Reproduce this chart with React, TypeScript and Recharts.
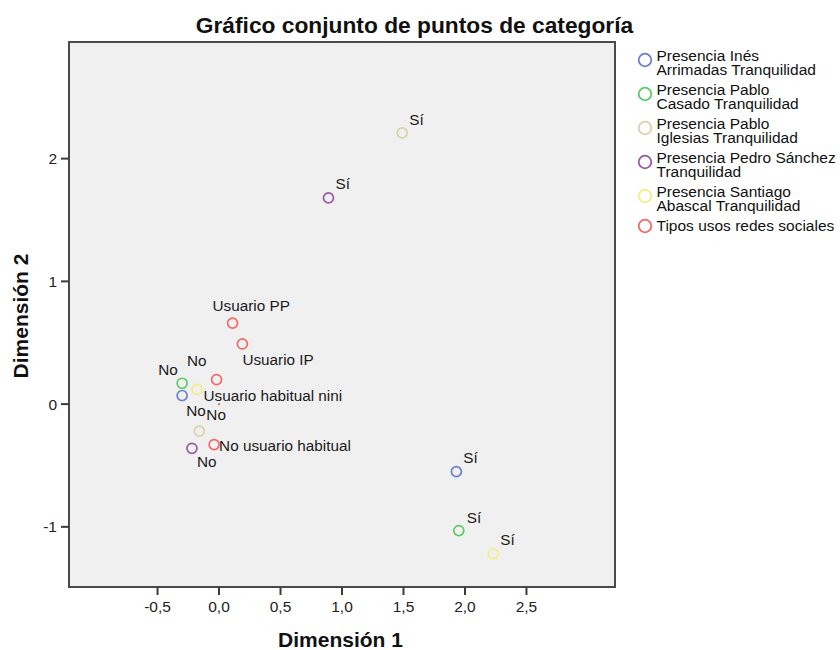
import React from 'react';
import {
  ScatterChart,
  Scatter,
  XAxis,
  YAxis,
  CartesianGrid,
  ReferenceArea,
  ReferenceDot,
  Legend,
} from 'recharts';

const FONT = '"Liberation Sans", Arial, Helvetica, sans-serif';

const title = 'Gráfico conjunto de puntos de categoría';
const xTitle = 'Dimensión 1';
const yTitle = 'Dimensión 2';

const xTicks = [-0.5, 0, 0.5, 1, 1.5, 2, 2.5];
const yTicks = [-1, 0, 1, 2];
const xDomain = [-1.22, 3.22];
const yDomain = [-1.49, 2.95];

const seriesNames = [
  'Presencia Inés Arrimadas Tranquilidad',
  'Presencia Pablo Casado Tranquilidad',
  'Presencia Pablo Iglesias Tranquilidad',
  'Presencia Pedro Sánchez Tranquilidad',
  'Presencia Santiago Abascal Tranquilidad',
  'Tipos usos redes sociales',
];
const legendLines = [
  ['Presencia Inés', 'Arrimadas Tranquilidad'],
  ['Presencia Pablo', 'Casado Tranquilidad'],
  ['Presencia Pablo', 'Iglesias Tranquilidad'],
  ['Presencia Pedro Sánchez', 'Tranquilidad'],
  ['Presencia Santiago', 'Abascal Tranquilidad'],
  ['Tipos usos redes sociales'],
];
const seriesColors = ['#6a7fd2', '#5ccb66', '#d8d3a8', '#9a58a6', '#f2ef86', '#f06a6a'];

const presenceCategories = ['No', 'Sí'];
const inesX = [-0.3, 1.93];
const inesY = [0.07, -0.55];
const casadoX = [-0.3, 1.95];
const casadoY = [0.17, -1.03];
const iglesiasX = [-0.16, 1.49];
const iglesiasY = [-0.22, 2.21];
const sanchezX = [-0.22, 0.89];
const sanchezY = [-0.36, 1.68];
const abascalX = [-0.18, 2.23];
const abascalY = [0.12, -1.22];

const usoCategories = ['Usuario PP', 'Usuario IP', 'Usuario habitual nini', 'No usuario habitual'];
const usoX = [0.11, 0.19, -0.02, -0.04];
const usoY = [0.66, 0.49, 0.2, -0.33];

// label placement (pixel offsets of text start / baseline from the point)
const labelOffsets = [
  [[4, 20], [7, -8.5]],
  [[-24, -8], [8, -8]],
  [[7, -11], [7, -8]],
  [[5, 19], [7, -8.5]],
  [[-10, -23], [7, -9]],
  [[-20, -12], [0, 21], [-13, 21], [5, 6]],
];

const seriesX = [inesX, casadoX, iglesiasX, sanchezX, abascalX, usoX];
const seriesY = [inesY, casadoY, iglesiasY, sanchezY, abascalY, usoY];
const seriesCats = [
  presenceCategories,
  presenceCategories,
  presenceCategories,
  presenceCategories,
  presenceCategories,
  usoCategories,
];

const seriesData = seriesX.map((xs, s) =>
  xs.map((x, i) => ({ x, y: seriesY[s][i], label: seriesCats[s][i], i }))
);

const makeShape = (s: number) => (props: any) => {
  const { cx, cy, payload } = props;
  if (cx == null || cy == null) return <g />;
  const idx = payload && payload.i != null ? payload.i : props.index;
  const off = labelOffsets[s][idx] || [7, -8];
  return (
    <g>
      <circle cx={cx} cy={cy} r={5} fill="none" stroke={seriesColors[s]} strokeWidth={1.7} />
      <text
        x={cx + off[0]}
        y={cy + off[1]}
        fontSize={15.3}
        fontFamily={FONT}
        fill="#1a1a1a"
      >
        {payload.label}
      </text>
    </g>
  );
};

const renderLegend = () => (
  <svg width={210} height={210} style={{ display: 'block' }}>
    {legendLines.map((lines, k) => {
      const base = 19 + 34 * k;
      const cy = lines.length > 1 ? base - 1 : base - 5;
      return (
        <g key={k}>
          <circle cx={15} cy={cy} r={6.3} fill="none" stroke={seriesColors[k]} strokeWidth={1.8} />
          {lines.map((t, j) => (
            <text key={j} x={26.5} y={base + 14 * j} fontSize={15.5} fontFamily={FONT} fill="#111">
              {t}
            </text>
          ))}
        </g>
      );
    })}
  </svg>
);

const fmtX = (v: number) => v.toFixed(1).replace('.', ',');
const fmtY = (v: number) => String(v);

const XTitle = (props: any) => {
  const vb = props.viewBox || { x: 69, y: 587, width: 546, height: 63 };
  return (
    <text
      x={vb.x + vb.width / 2 - 1.5}
      y={647}
      textAnchor="middle"
      fontSize={21}
      fontWeight="bold"
      fontFamily={FONT}
      fill="#111"
    >
      {xTitle}
    </text>
  );
};

const YTitle = (props: any) => {
  const vb = props.viewBox || { x: 0, y: 42, width: 69, height: 545 };
  const cy = vb.y + vb.height / 2 + 1.5;
  return (
    <text
      x={28}
      y={cy}
      transform={`rotate(-90 28 ${cy})`}
      textAnchor="middle"
      fontSize={21}
      fontWeight="bold"
      fontFamily={FONT}
      fill="#111"
    >
      {yTitle}
    </text>
  );
};

export default function App() {
  return (
    <div
      style={{
        position: 'absolute',
        left: 0,
        top: 0,
        width: 840,
        height: 650,
        background: '#ffffff',
        fontFamily: FONT,
      }}
    >
      <div
        style={{
          position: 'absolute',
          left: 0,
          top: 12.5,
          width: 829,
          textAlign: 'center',
          fontSize: 22.75,
          lineHeight: '24px',
          fontWeight: 'bold',
          color: '#111',
          fontFamily: FONT,
          whiteSpace: 'nowrap',
        }}
      >
        {title}
      </div>
      <div style={{ position: 'absolute', left: 0, top: 0 }}>
        <ScatterChart
          width={840}
          height={650}
          margin={{ top: 42, right: 225, bottom: 0, left: 0 }}
        >
          <CartesianGrid fill="#f0f0f0" horizontal={false} vertical={false} />
          <XAxis
            type="number"
            dataKey="x"
            domain={xDomain}
            ticks={xTicks}
            interval={0}
            allowDataOverflow
            height={63}
            tickSize={8}
            tickMargin={6}
            tickFormatter={fmtX}
            axisLine={false}
            tickLine={{ stroke: '#3c3c3c', strokeWidth: 2 }}
            tick={{ fontSize: 15.5, fontFamily: FONT, fill: '#222' }}
            label={(p: any) => <XTitle {...p} />}
          />
          <YAxis
            type="number"
            dataKey="y"
            domain={yDomain}
            ticks={yTicks}
            interval={0}
            allowDataOverflow
            width={69}
            tickSize={8}
            tickMargin={4}
            tickFormatter={fmtY}
            axisLine={false}
            tickLine={{ stroke: '#3c3c3c', strokeWidth: 2 }}
            tick={{ fontSize: 15.5, fontFamily: FONT, fill: '#222' }}
            label={(p: any) => <YTitle {...p} />}
          />
          <ReferenceArea
            x1={xDomain[0]}
            x2={xDomain[1]}
            y1={yDomain[0]}
            y2={yDomain[1]}
            fill="none"
            fillOpacity={0}
            stroke="#4a4a4a"
            strokeWidth={2}
            ifOverflow="visible"
          />
          <ReferenceDot x={0} y={0} r={1.2} fill="#c08050" stroke="none" ifOverflow="visible" />
          {seriesData.map((d, s) => (
            <Scatter
              key={s}
              name={seriesNames[s]}
              data={d}
              fill={seriesColors[s]}
              shape={makeShape(s)}
              isAnimationActive={false}
            />
          ))}
          <Legend
            layout="vertical"
            align="center"
            verticalAlign="middle"
            content={renderLegend}
            wrapperStyle={{ left: 630, top: 42, width: 210, height: 210 }}
          />
        </ScatterChart>
      </div>
    </div>
  );
}
